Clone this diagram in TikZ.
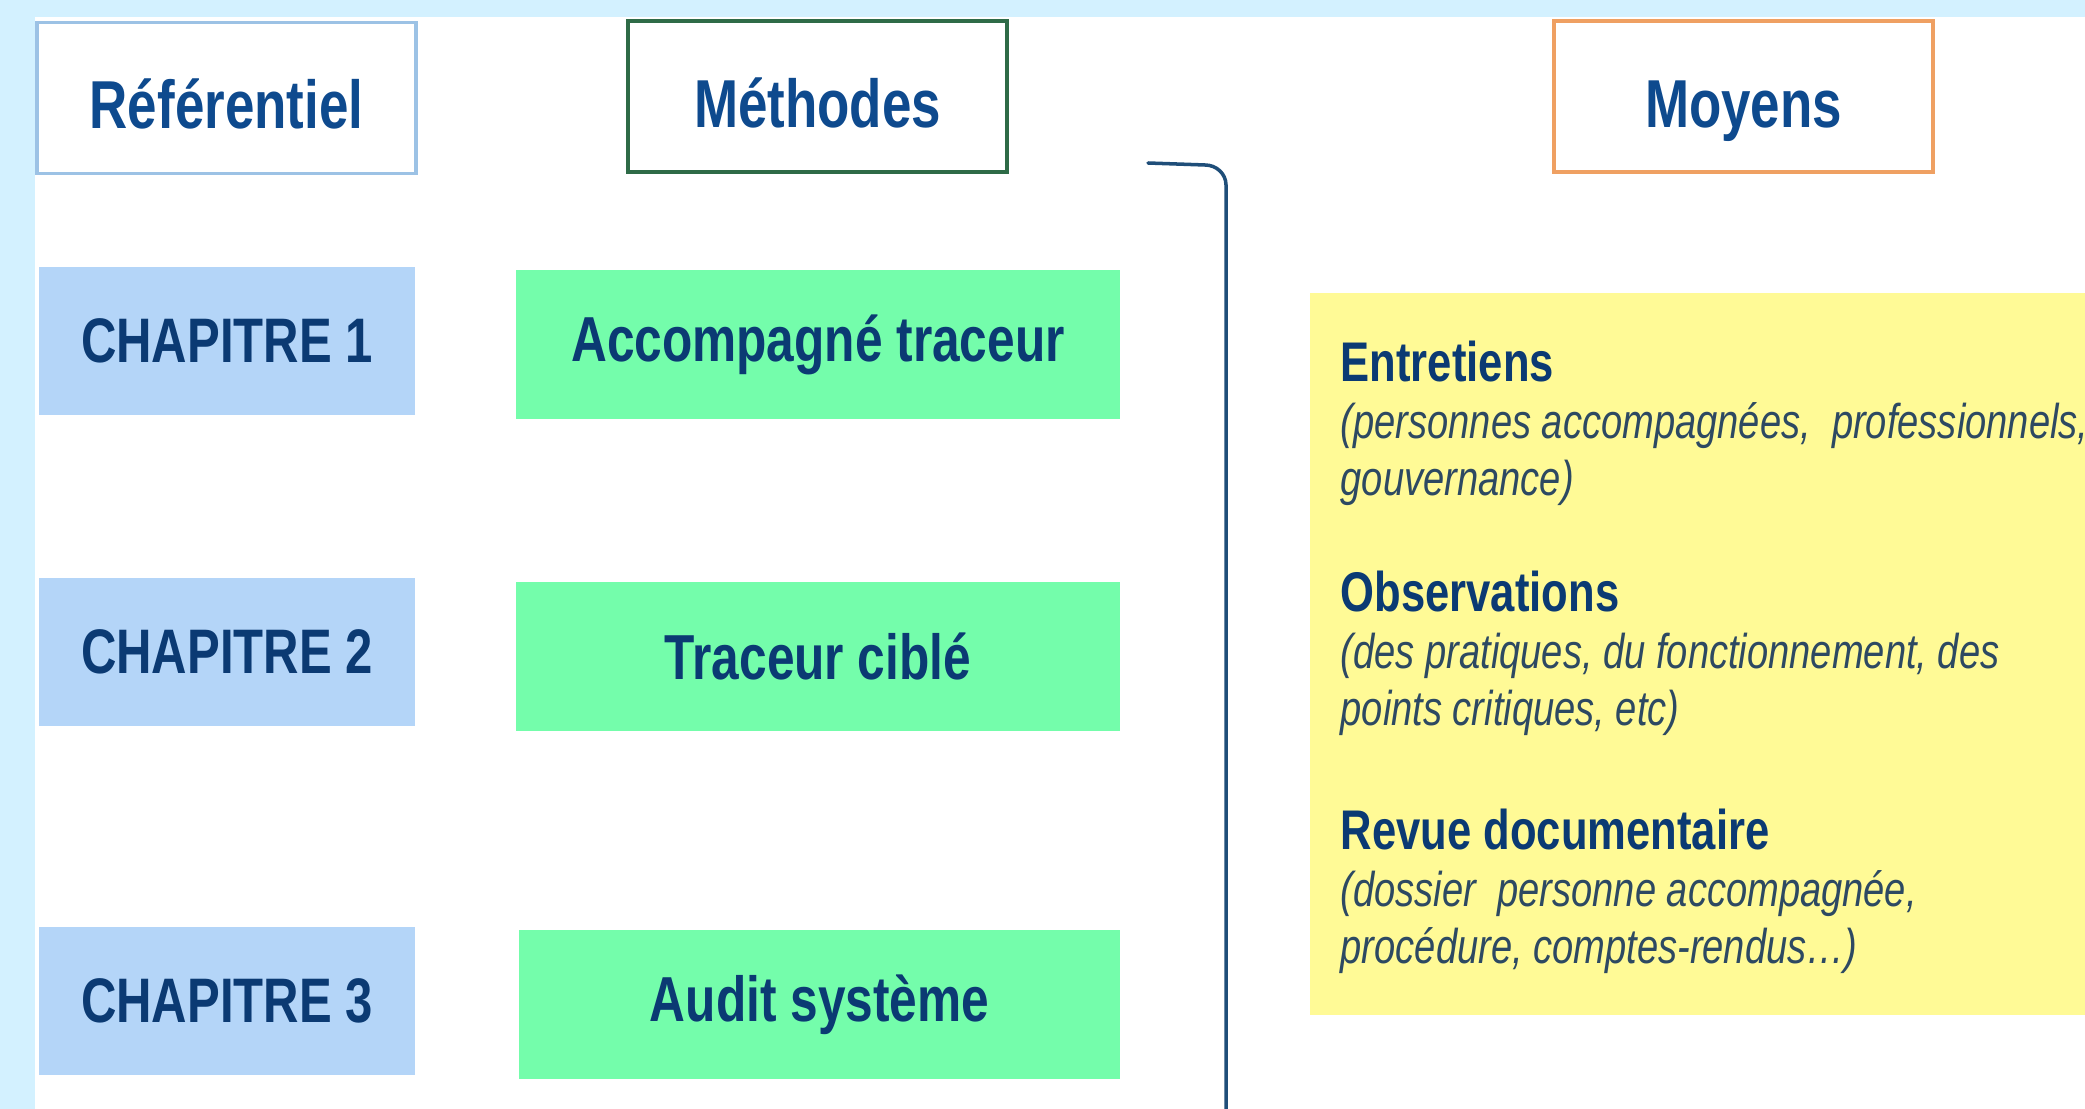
\documentclass[tikz,border=0pt]{standalone}
\usepackage{fontspec}
\setmainfont[FakeStretch=0.78]{Liberation Sans}

\definecolor{frameblue}{HTML}{D3F1FF}
\definecolor{refline}{HTML}{9CC2E5}
\definecolor{methline}{HTML}{2E6B47}
\definecolor{moyline}{HTML}{EFA062}
\definecolor{chapblue}{HTML}{B4D5F8}
\definecolor{methgreen}{HTML}{74FDAB}
\definecolor{moyyellow}{HTML}{FFFA96}
\definecolor{titleblue}{HTML}{0E4A8E}
\definecolor{textblue}{HTML}{0B3A73}
\definecolor{notegray}{HTML}{2D4962}
\definecolor{bracketblue}{HTML}{1F4E79}

\begin{document}
\begin{tikzpicture}[x=1cm,y=-1cm]
        \useasboundingbox (0,0) rectangle (20.85,11.09);
        \tikzset{headbox/.style={draw=#1,line width=1pt,fill=white,
            minimum width=3.79cm,minimum height=1.51cm,text=titleblue,
            text height=17.6pt,text depth=0pt,
            font=\fontsize{19.3}{23}\selectfont\bfseries}}
        \tikzset{chapbox/.style={fill=chapblue,minimum width=3.76cm,
            minimum height=1.48cm,text=textblue,
            font=\fontsize{17.9}{22}\selectfont\bfseries}}
        \tikzset{methbox/.style={fill=methgreen,minimum width=6.04cm,
            minimum height=1.49cm,text=textblue,
            font=\fontsize{18.1}{22}\selectfont\bfseries}}
        \tikzset{moyentext/.style={anchor=base west,inner sep=0pt,align=left,
            text=notegray,font=\fontsize{13.9}{16.2}\selectfont\itshape}}
        \newcommand{\moyenhead}[1]{{\fontsize{15.9}{16.2}\selectfont\bfseries\upshape\color{textblue}#1}}

        %% Page frame: light blue strips at the top and on the left
        \fill[frameblue] (0,0) rectangle (20.85,11.09);
        \fill[white] (0.35,0.17) rectangle (20.85,11.09);

        %% Column headers
        \node (referentiel) at (2.265,0.98)  [headbox=refline]  {Référentiel};
        \node (methodes)    at (8.175,0.965) [headbox=methline] {Méthodes};
        \node (moyens)      at (17.435,0.965)[headbox=moyline]  {Moyens};

        %% Chapters of the referential
        \node (chap1) at (2.27,3.41)  [chapbox] {CHAPITRE 1};
        \node (chap2) at (2.27,6.52)  [chapbox] {CHAPITRE 2};
        \node (chap3) at (2.27,10.01) [chapbox] {CHAPITRE 3};

        %% Evaluation methods
        \node (accompagne) at (8.18,3.445)  [methbox] {Accompagné traceur};
        \node (cible)      at (8.18,6.565)  [methbox] {Traceur ciblé};
        \node (audit)      at (8.195,10.045)[methbox,minimum width=6.01cm] {Audit système};

        %% Bracket gathering the methods
        \coordinate (bracketstart) at (11.48,1.63);
        \coordinate (bracketend)   at (12.26,11.09);
        \draw[bracketblue,line width=1pt,line cap=round]
          (bracketstart) -- (12.05,1.65) to[out=0,in=90] (12.26,1.85) -- (bracketend);

        %% Means, on the yellow panel (nodes sit on their last baseline)
        \fill[moyyellow] (13.10,2.93) rectangle (20.85,10.15);
        \node (entretiens) at (13.40,4.95) [moyentext]
          {\moyenhead{Entretiens}\\
           (personnes accompagnées,\ \ professionnels,\\
           gouvernance)};
        \node (observations) at (13.40,7.25) [moyentext]
          {\moyenhead{Observations}\\
           (des pratiques, du fonctionnement, des\\
           points critiques, etc)};
        \node (revue) at (13.40,9.63) [moyentext]
          {\moyenhead{Revue documentaire}\\
           (dossier\ \ personne accompagnée,\\
           procédure, comptes-rendus\dots)};

      \end{tikzpicture}
\end{document}
